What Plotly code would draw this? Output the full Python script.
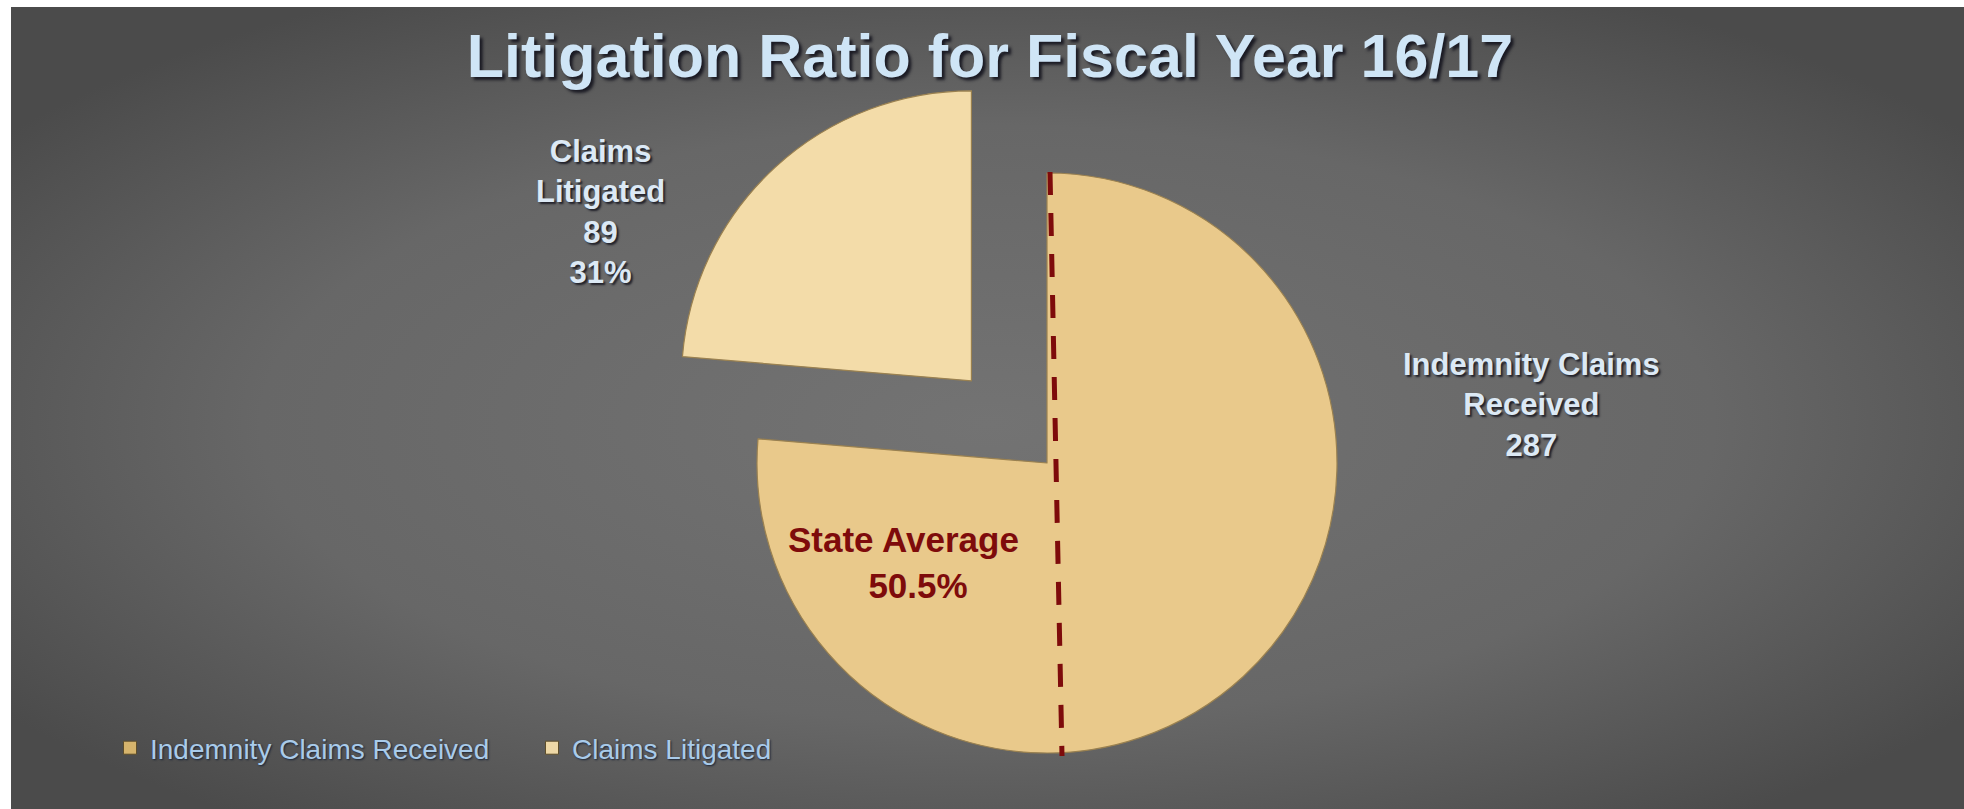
import base64
import math
import plotly.graph_objects as go

# ---------------- data ----------------
labels = ["Indemnity Claims Received", "Claims Litigated"]
label_lines = ["Indemnity Claims<br>Received", "Claims<br>Litigated"]
values = [287, 89]
state_average_pct = 50.5
title_text = "Litigation Ratio for Fiscal Year 16/17"

# ---------------- style ----------------
slice_colors = ["#E9C98B", "#F3DCA9"]
legend_colors = ["#D6B46C", "#EED8A6"]
edge_color = "#9A8150"
label_color = "#DCE9F5"
title_color = "#CFE5F6"
legend_text_color = "#A9CBEA"
avg_color = "#7E0B0B"
FONT = "Liberation Sans, Arial, sans-serif"
SHADOW = "2px 2px 2px rgba(20,20,30,0.85)"

W, H = 1964, 809
CX, CY, R = 1047, 463, 290   # pie centre / radius in px
PULL = 0.385                  # explode fraction of the litigated slice
BORDER_L, BORDER_T = 11, 7


def dom(cx, cy, r):
    return dict(x=[(cx - r) / W, (cx + r) / W], y=[(H - cy - r) / H, (H - cy + r) / H])


total = sum(values)
start_deg = 360 * values[0] / total
mid = math.radians((start_deg + 360) / 2)
dx = PULL * R * math.sin(mid)
dy = -PULL * R * math.cos(mid)

clear = "rgba(0,0,0,0)"
common = dict(labels=labels, values=values, sort=False, direction="clockwise",
              rotation=0, textinfo="none", showlegend=False,
              hoverinfo="label+value")

fig = go.Figure()
fig.add_trace(go.Pie(**common, domain=dom(CX, CY, R),
                     marker=dict(colors=[slice_colors[0], clear],
                                 line=dict(color=[edge_color, clear], width=1.2))))
fig.add_trace(go.Pie(**common, domain=dom(CX + dx, CY + dy, R),
                     marker=dict(colors=[clear, slice_colors[1]],
                                 line=dict(color=[clear, edge_color], width=1.2))))

for lab, col in zip(labels, legend_colors):
    fig.add_trace(go.Scatter(x=[None], y=[None], mode="markers", name=lab,
                             marker=dict(symbol="square", size=13, color=col,
                                         line=dict(color="#5e4e2a", width=1)),
                             hoverinfo="skip"))

# background gradient
svg = ('<svg xmlns="http://www.w3.org/2000/svg" width="1953" height="802" '
       'viewBox="0 0 1953 802" preserveAspectRatio="none"><defs>'
       '<radialGradient id="g" cx="50%" cy="52%" r="62%">'
       '<stop offset="0" stop-color="#737373"/>'
       '<stop offset="0.6" stop-color="#676767"/>'
       '<stop offset="1" stop-color="#4b4b4b"/></radialGradient></defs>'
       '<rect width="1953" height="802" fill="url(#g)"/></svg>')
src = "data:image/svg+xml;base64," + base64.b64encode(svg.encode()).decode()

ratio_pct = round(values[1] / values[0] * 100)

annotations = [
    dict(text=f"{label_lines[1]}<br>{values[1]}<br>{ratio_pct}%",
         x=600 / W, y=1 - 212 / H, font=dict(size=31, color=label_color)),
    dict(text=f"{label_lines[0]}<br>{values[0]}",
         x=1531 / W, y=1 - 405 / H, font=dict(size=31, color=label_color)),
    dict(text=f"State Average<br>&nbsp;&nbsp;&nbsp;{state_average_pct}%",
         x=903 / W, y=1 - 562 / H, font=dict(size=35, color=avg_color)),
]
for a in annotations:
    a.update(xref="paper", yref="paper", showarrow=False, xanchor="center",
             yanchor="middle", align="center")
    a["font"].update(family=FONT, weight="bold",
                     shadow=SHADOW if a["font"]["color"] != avg_color else "none")

fig.update_layout(
    width=W, height=H, margin=dict(l=0, r=0, t=0, b=0),
    paper_bgcolor="white", plot_bgcolor=clear,
    xaxis=dict(visible=False), yaxis=dict(visible=False),
    title=dict(text=title_text, x=990 / W, y=1 - 56 / H, xanchor="center",
               yanchor="middle",
               font=dict(family=FONT, size=61, color=title_color, weight="bold",
                         shadow="3px 3px 3px rgba(20,20,30,0.9)")),
    legend=dict(orientation="h", x=110 / W, y=1 - 748 / H, xanchor="left",
                yanchor="middle", bgcolor=clear, itemwidth=30,
                entrywidth=377, entrywidthmode="pixels",
                font=dict(family=FONT, size=28, color=legend_text_color,
                          shadow="1px 1px 2px rgba(20,30,50,0.9)")),
    annotations=annotations,
    images=[dict(source=src, xref="paper", yref="paper", x=BORDER_L / W, y=1 - BORDER_T / H,
                 sizex=1 - BORDER_L / W, sizey=1 - BORDER_T / H, xanchor="left",
                 yanchor="top", sizing="stretch", layer="below")],
    shapes=[dict(type="line", xref="paper", yref="paper",
                 x0=(CX + 3) / W, y0=1 - (CY - R - 1) / H,
                 x1=(CX + 15) / W, y1=1 - (CY + R + 3) / H,
                 line=dict(color=avg_color, width=5, dash="23px,18px"))],
)

fig.write_html("out.html")
